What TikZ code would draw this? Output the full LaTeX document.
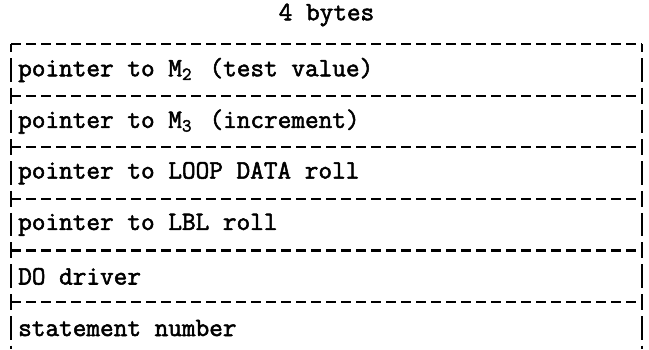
\documentclass[tikz,border=0pt]{standalone}
\usepackage{fontspec}
\setmonofont[FakeBold=2]{Latin Modern Mono}
\newcommand{\subdig}[1]{\makebox[0.525em][l]{\textsubscript{#1}}}
\begin{document}
\begin{tikzpicture}[x=1pt,y=-1pt,
  lbl/.style={font=\ttfamily\fontsize{26.5}{28}\selectfont, inner sep=0pt, anchor=west},
  hdash/.style={line width=2.2pt, dash pattern=on 10pt off 5pt},
  vdash/.style={line width=2.2pt, dash pattern=on 16pt off 6pt on 23.6pt off 6pt, dash phase=8pt}]
\useasboundingbox (0,0) rectangle (649,349);
\node[lbl, anchor=center] (hdr) at (326.5,15) {4 bytes};
\foreach \k in {0,...,5} {
  \coordinate (L\k) at (11,44+51.6*\k);
  \coordinate (R\k) at (642,44+51.6*\k);
  \draw[hdash] (L\k) -- (R\k);
}
\coordinate (LB) at (11,349);
\coordinate (RB) at (642,349);
\draw[vdash] (L0) -- (LB);
\draw[vdash] (R0) -- (RB);
\node[lbl] (t1) at (18,70) {pointer to M\subdig{2} (test value)};
\node[lbl] (t2) at (18,121.6) {pointer to M\subdig{3} (increment)};
\node[lbl] (t3) at (18,173.2) {pointer to LOOP DATA roll};
\node[lbl] (t4) at (18,224.8) {pointer to LBL roll};
\node[lbl] (t5) at (18,276.4) {DO driver};
\node[lbl] (t6) at (18,328) {statement number};
\end{tikzpicture}
\end{document}
